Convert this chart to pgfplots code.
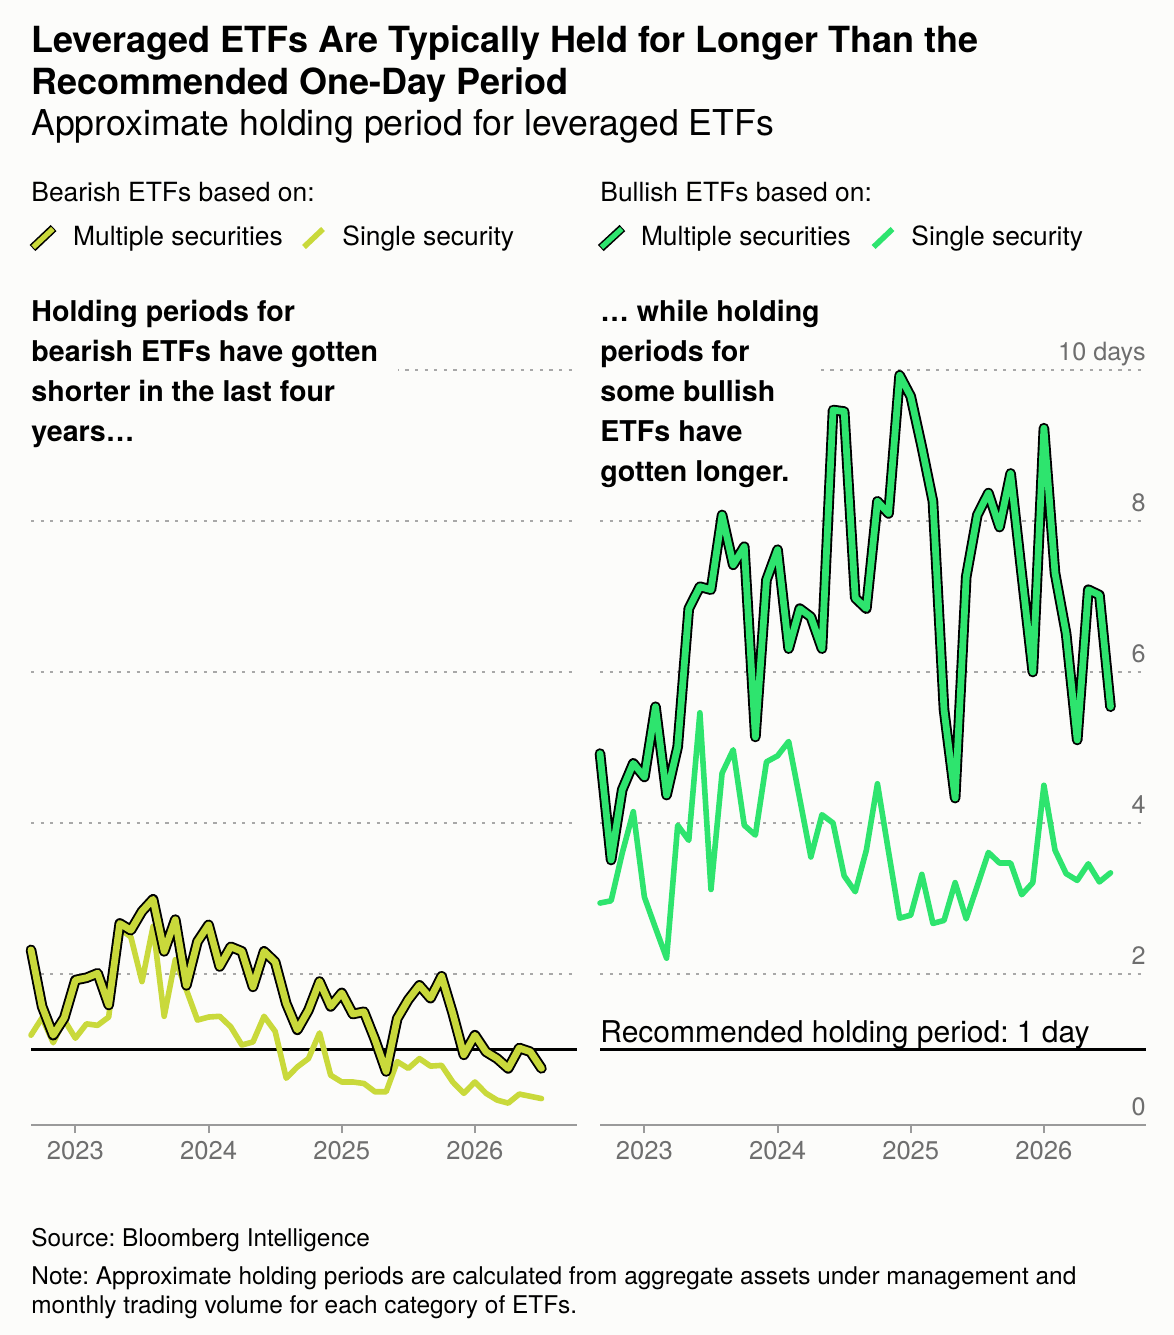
\documentclass[border=0pt]{standalone}
\usepackage{fontspec}
\setmainfont{TeX Gyre Heros}
\usepackage{pgfplots}
\usepackage{pgfplotstable}
\pgfplotsset{compat=1.18}
\definecolor{bg}{HTML}{FCFCFA}
\definecolor{bear}{HTML}{C9D93B}
\definecolor{bull}{HTML}{2EE46E}
\definecolor{tickgray}{HTML}{6E6E6E}
\definecolor{gridgray}{HTML}{A8A8A8}
\definecolor{axgray}{HTML}{9A9A9A}
\frenchspacing

\pgfplotstableread{
i bm bs
0 2.32 1.19
1 1.57 1.42
2 1.19 1.09
3 1.42 1.39
4 1.92 1.15
5 1.95 1.34
6 2.01 1.32
7 1.59 1.43
8 2.67 2.60
9 2.58 2.49
10 2.83 1.90
11 2.99 2.63
12 2.30 1.44
13 2.72 2.19
14 1.85 1.79
15 2.43 1.39
16 2.65 1.43
17 2.10 1.44
18 2.36 1.30
19 2.30 1.06
20 1.83 1.10
21 2.30 1.44
22 2.16 1.24
23 1.61 0.62
24 1.26 0.77
25 1.52 0.88
26 1.90 1.22
27 1.57 0.66
28 1.75 0.57
29 1.47 0.57
30 1.50 0.55
31 1.13 0.44
32 0.71 0.44
33 1.41 0.84
34 1.66 0.75
35 1.85 0.88
36 1.68 0.78
37 1.97 0.79
38 1.48 0.57
39 0.93 0.42
40 1.19 0.57
41 0.97 0.42
42 0.88 0.33
43 0.75 0.29
44 1.02 0.41
45 0.97 0.38
46 0.75 0.35
}\beartab

\pgfplotstableread{
i bm bs
0 4.92 2.94
1 3.51 2.97
2 4.44 3.60
3 4.79 4.15
4 4.61 3.02
5 5.54 2.61
6 4.37 2.21
7 5.01 3.97
8 6.84 3.77
9 7.13 5.46
10 7.09 3.12
11 8.08 4.66
12 7.42 4.97
13 7.66 3.97
14 5.14 3.84
15 7.22 4.81
16 7.62 4.89
17 6.31 5.08
18 6.84 4.32
19 6.73 3.55
20 6.31 4.11
21 9.47 4.00
22 9.45 3.30
23 6.98 3.09
24 6.84 3.64
25 8.26 4.52
26 8.10 3.62
27 9.93 2.74
28 9.65 2.78
29 8.98 3.32
30 8.26 2.67
31 5.50 2.71
32 4.33 3.21
33 7.26 2.73
34 8.08 3.17
35 8.37 3.61
36 7.92 3.47
37 8.63 3.47
38 7.30 3.05
39 6.00 3.21
40 9.23 4.50
41 7.31 3.64
42 6.51 3.33
43 5.10 3.24
44 7.09 3.46
45 7.02 3.22
46 5.54 3.34
}\bulltab

\newcommand{\titlefont}{\fontsize{18pt}{21.5pt}\selectfont\bfseries}
\newcommand{\subfont}{\fontsize{17.8pt}{21pt}\selectfont}
\newcommand{\legfont}{\fontsize{13.2pt}{15pt}\selectfont}
\newcommand{\annfont}{\fontsize{14.3pt}{20pt}\selectfont\bfseries}
\newcommand{\ylfont}{\fontsize{12.6pt}{14pt}\selectfont}
\newcommand{\footfont}{\fontsize{12.2pt}{14pt}\selectfont}

\pgfplotsset{panel/.style={
  scale only axis, width=273pt, height=377.5pt,
  xmin=0, xmax=49.2, ymin=0, ymax=10,
  clip=false,
  axis x line*=bottom, axis y line*=left,
  y axis line style={draw=none},
  x axis line style={axgray, line width=1pt},
  xtick={4,16,28,40}, xticklabels={2023,2024,2025,2026},
  tick align=outside, major tick length=4pt,
  xtick style={axgray, line width=1pt},
  ytick={2,4,6,8,10}, yticklabels={}, ytick style={draw=none},
  ymajorgrids, grid style={gridgray, line width=0.7pt, dash pattern=on 1.6pt off 3.2pt},
  xticklabel style={font=\fontsize{12.8pt}{14pt}\selectfont, text=tickgray, anchor=base, yshift=-13pt},
}}

\begin{document}
\begin{tikzpicture}
\path[use as bounding box] (0,0) rectangle (587pt,-667.5pt);
\fill[bg] (0,0) rectangle (587pt,-667.5pt);

% titles
\node[anchor=base west, inner sep=0, font=\titlefont] at (15.5pt,-26pt) {Leveraged ETFs Are Typically Held for Longer Than the};
\node[anchor=base west, inner sep=0, font=\titlefont] at (15.5pt,-47.2pt) {Recommended One-Day Period};
\node[anchor=base west, inner sep=0, font=\subfont] at (15.5pt,-67.6pt) {Approximate holding period for leveraged ETFs};

% legend headings
\node[anchor=base west, inner sep=0, font=\legfont] at (15.5pt,-100.9pt) {Bearish ETFs based on:};
\node[anchor=base west, inner sep=0, font=\legfont] at (300pt,-100.9pt) {Bullish ETFs based on:};
% legend keys
\draw[black, line width=4.2pt, line cap=butt] (16.25pt,-124pt) -- (26.8pt,-114pt);
\draw[bear, line width=2.6pt, line cap=butt] (16.6pt,-123.6pt) -- (26.45pt,-114.4pt);
\draw[bear, line width=2.8pt, line cap=butt] (152pt,-123.5pt) -- (161.5pt,-114.5pt);
\node[anchor=base west, inner sep=0, font=\legfont] at (36.35pt,-122.5pt) {Multiple securities};
\node[anchor=base west, inner sep=0, font=\legfont] at (171pt,-122.5pt) {Single security};
\draw[black, line width=4.2pt, line cap=butt] (300.4pt,-124pt) -- (311.2pt,-114pt);
\draw[bull, line width=2.6pt, line cap=butt] (300.75pt,-123.6pt) -- (310.85pt,-114.4pt);
\draw[bull, line width=2.8pt, line cap=butt] (436.8pt,-123.5pt) -- (446.25pt,-114.5pt);
\node[anchor=base west, inner sep=0, font=\legfont] at (320.3pt,-122.5pt) {Multiple securities};
\node[anchor=base west, inner sep=0, font=\legfont] at (455.5pt,-122.5pt) {Single security};

% left panel
\begin{axis}[panel, at={(15.5pt,-562.5pt)}, anchor=south west]
\addplot[black, line width=1.5pt] coordinates {(0,1) (49.2,1)};
\addplot[bear, line width=2.8pt, line join=round, line cap=round] table[x=i,y=bs]{\beartab};
\addplot[black, line width=5.3pt, line join=round, line cap=round] table[x=i,y=bm]{\beartab};
\addplot[bear, line width=3.4pt, line join=round, line cap=round] table[x=i,y=bm]{\beartab};
\end{axis}

% right panel
\begin{axis}[panel, at={(300pt,-562.5pt)}, anchor=south west]
\addplot[black, line width=1.5pt] coordinates {(0,1) (49.2,1)};
\addplot[bull, line width=2.8pt, line join=round, line cap=round] table[x=i,y=bs]{\bulltab};
\addplot[black, line width=5.3pt, line join=round, line cap=round] table[x=i,y=bm]{\bulltab};
\addplot[bull, line width=3.4pt, line join=round, line cap=round] table[x=i,y=bm]{\bulltab};
\node[anchor=base east, inner sep=0, text=tickgray, font=\ylfont, yshift=5pt] at (axis cs:49.2,0) {0};
\node[anchor=base east, inner sep=0, text=tickgray, font=\ylfont, yshift=5pt] at (axis cs:49.2,2) {2};
\node[anchor=base east, inner sep=0, text=tickgray, font=\ylfont, yshift=5pt] at (axis cs:49.2,4) {4};
\node[anchor=base east, inner sep=0, text=tickgray, font=\ylfont, yshift=5pt] at (axis cs:49.2,6) {6};
\node[anchor=base east, inner sep=0, text=tickgray, font=\ylfont, yshift=5pt] at (axis cs:49.2,8) {8};
\node[anchor=base east, inner sep=0, text=tickgray, font=\ylfont, yshift=5pt] at (axis cs:49.2,10) {10 days};
\end{axis}

% covers for gridlines behind annotations
\fill[bg] (15pt,-181.5pt) rectangle (199pt,-189pt);
\fill[bg] (299.5pt,-181.5pt) rectangle (407.5pt,-189pt);

% annotations
\node[anchor=base west, inner sep=0, font=\annfont] at (15.5pt,-160.5pt) {Holding periods for};
\node[anchor=base west, inner sep=0, font=\annfont] at (15.5pt,-180.5pt) {bearish ETFs have gotten};
\node[anchor=base west, inner sep=0, font=\annfont] at (15.5pt,-200.5pt) {shorter in the last four};
\node[anchor=base west, inner sep=0, font=\annfont] at (15.5pt,-220.8pt) {years…};

\node[anchor=base west, inner sep=0, font=\annfont] at (300pt,-160.5pt) {… while holding};
\node[anchor=base west, inner sep=0, font=\annfont] at (300pt,-180.5pt) {periods for};
\node[anchor=base west, inner sep=0, font=\annfont] at (300pt,-200.5pt) {some bullish};
\node[anchor=base west, inner sep=0, font=\annfont] at (300pt,-220.5pt) {ETFs have};
\node[anchor=base west, inner sep=0, font=\annfont] at (300pt,-240.5pt) {gotten longer.};

\node[anchor=base west, inner sep=0, font=\fontsize{15pt}{17pt}\selectfont] at (300pt,-521pt) {Recommended holding period: 1 day};

% footer
\node[anchor=base west, inner sep=0, font=\footfont] at (15.5pt,-623pt) {Source: Bloomberg Intelligence};
\node[anchor=base west, inner sep=0, font=\footfont] at (15.5pt,-642pt) {Note: Approximate holding periods are calculated from aggregate assets under management and};
\node[anchor=base west, inner sep=0, font=\footfont] at (15.5pt,-656.5pt) {monthly trading volume for each category of ETFs.};
\end{tikzpicture}
\end{document}
